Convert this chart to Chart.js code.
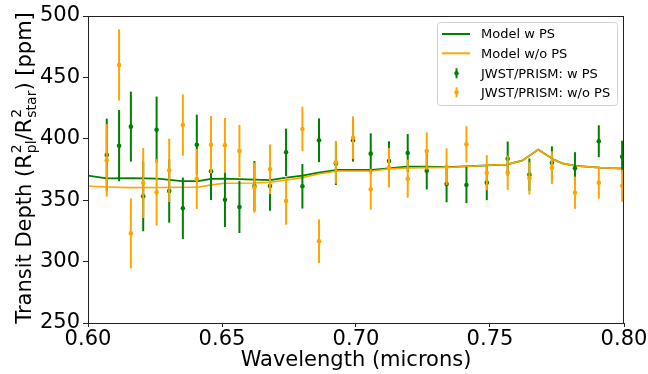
<!DOCTYPE html>
<html>
<head>
<meta charset="utf-8">
<script src="https://cdn.jsdelivr.net/npm/chart.js@4/dist/chart.umd.min.js"></script>
<style>
  html, body { margin: 0; padding: 0; background: #fff; }
  #TransitChart { display: block; }
</style>
</head>
<body>
<canvas id="TransitChart" width="648" height="374"></canvas>
<script>
// binned JWST/PRISM points (microns / ppm)
const wavelength = [0.6070, 0.6116, 0.6160, 0.6206, 0.6256, 0.6303, 0.6354, 0.6406, 0.6459, 0.6511,
                    0.6565, 0.6621, 0.6679, 0.6739, 0.6800, 0.6862, 0.6925, 0.6989, 0.7055, 0.7123,
                    0.7193, 0.7264, 0.7338, 0.7412, 0.7488, 0.7566, 0.7647, 0.7731, 0.7817, 0.7906, 0.7993];
const depth_ps = [386.8, 394.4, 409.9, 353.2, 407.4, 357.5, 343.4, 395.2, 373.5, 350.4,
                  344.5, 361.6, 361.6, 389.0, 361.3, 398.8, 379.8, 398.8, 387.9, 381.9,
                  388.4, 374.0, 363.2, 362.4, 364.3, 383.8, 370.8, 380.5, 376.0, 398.0, 385.4];
const depth_no_ps = [382.5, 460.1, 323.0, 364.0, 356.4, 374.3, 411.2, 367.3, 395.2, 394.7,
                     390.1, 360.2, 375.2, 349.3, 408.0, 316.5, 380.9, 400.9, 358.9, 376.5,
                     367.5, 390.1, 377.3, 395.5, 372.4, 372.4, 367.8, 376.5, 356.1, 364.3, 361.8];
const depth_err = [29.6, 29.0, 28.5, 28.5, 27.0, 25.8, 25.0, 24.4, 23.3, 22.3,
                   21.2, 20.4, 20.2, 19.3, 18.1, 17.8, 17.4, 17.4, 16.6, 16.1,
                   15.5, 15.2, 14.9, 14.8, 14.3, 14.0, 13.2, 13.3, 13.1, 13.0, 13.1];

// model spectra
const model_wave = [0.600, 0.607, 0.616, 0.626, 0.635, 0.641, 0.646, 0.651, 0.662, 0.668,
                    0.674, 0.680, 0.686, 0.693, 0.699, 0.706, 0.712, 0.719, 0.726, 0.734,
                    0.749, 0.756, 0.762, 0.768, 0.774, 0.777, 0.782, 0.791, 0.800];
const model_ps = [370.0, 367.8, 368.0, 367.5, 365.6, 365.6, 367.3, 367.6, 366.8, 366.4,
                  368.4, 370.0, 372.4, 374.6, 374.6, 374.6, 376.0, 377.3, 377.3, 377.0,
                  378.4, 379.0, 382.2, 391.2, 382.8, 380.0, 377.9, 376.5, 375.7];
const model_no_ps = [361.6, 360.8, 360.2, 360.3, 360.5, 360.5, 362.5, 363.8, 364.0, 364.6,
                     366.4, 368.4, 371.4, 373.8, 373.8, 373.8, 375.4, 376.2, 376.5, 376.6,
                     378.4, 379.0, 382.2, 391.2, 382.8, 380.0, 377.9, 376.5, 375.7];

const x_ticks = [0.60, 0.65, 0.70, 0.75, 0.80];
const y_ticks = [250, 300, 350, 400, 450, 500];

const GREEN = '#008000';
const ORANGE = '#ffa500';
const FONT = 'DejaVu Sans';

function to_points(xs, ys){
    return xs.map((x, i) => ({x: x, y: ys[i]}));
}

// draw vertical error bars under each data set's markers
const errorbar_plugin = {
    id: 'errorbars',
    beforeDatasetDraw(chart, args){
        const ds = chart.data.datasets[args.index];
        if (!ds.errors) return;
        const ctx = chart.ctx;
        const xs = chart.scales.x, ys = chart.scales.y;
        ctx.save();
        ctx.strokeStyle = ds.backgroundColor;
        ctx.lineWidth = 2;
        ds.data.forEach((p, i) => {
            const px = xs.getPixelForValue(p.x);
            ctx.beginPath();
            ctx.moveTo(px, ys.getPixelForValue(p.y - ds.errors[i]));
            ctx.lineTo(px, ys.getPixelForValue(p.y + ds.errors[i]));
            ctx.stroke();
        });
        ctx.restore();
    }
};

// frame, y title with sub/superscripts, legend
const decor_plugin = {
    id: 'decor',
    afterDraw(chart){
        const ctx = chart.ctx;
        const a = chart.chartArea;
        ctx.save();
        ctx.strokeStyle = '#222';
        ctx.lineWidth = 1;
        ctx.strokeRect(a.left + 0.5, a.top + 0.5, a.right - a.left - 1, a.bottom - a.top);

        // y axis title
        const big = '21px ' + FONT, small = '14px ' + FONT;
        const parts = [
            {t: 'Transit Depth (R'},
            {sub: 'pl', sup: '2'},
            {t: '/R'},
            {sub: 'star', sup: '2'},
            {t: ') [ppm]'}
        ];
        let total = 0;
        parts.forEach(p => {
            if (p.t) { ctx.font = big; p.w = ctx.measureText(p.t).width; }
            else { ctx.font = small; p.w = Math.max(ctx.measureText(p.sub).width, ctx.measureText(p.sup).width) + 1; }
            total += p.w;
        });
        ctx.translate(31, 168);
        ctx.rotate(-Math.PI / 2);
        ctx.fillStyle = '#000';
        ctx.textBaseline = 'alphabetic';
        ctx.textAlign = 'left';
        let cx = -total / 2;
        parts.forEach(p => {
            if (p.t) { ctx.font = big; ctx.fillText(p.t, cx, 0); }
            else {
                ctx.font = small;
                ctx.fillText(p.sup, cx + 1, -10);
                ctx.fillText(p.sub, cx + 1, 5);
            }
            cx += p.w;
        });
        ctx.restore();

        // legend
        ctx.save();
        const lx = 437, ly = 22, lw = 180, lh = 83;
        ctx.fillStyle = 'rgba(255,255,255,0.8)';
        ctx.strokeStyle = '#d0d0d0';
        ctx.lineWidth = 1;
        ctx.beginPath();
        ctx.roundRect(lx + 0.5, ly + 0.5, lw, lh, 3);
        ctx.fill();
        ctx.stroke();
        const rows = [34, 53.3, 73.3, 92.3];
        ctx.font = '13px ' + FONT;
        ctx.textBaseline = 'middle';
        ctx.fillStyle = '#000';
        chart.data.datasets.forEach(ds => {
            const ry = rows[ds.legend_row];
            ctx.strokeStyle = ds.borderColor;
            ctx.lineWidth = 2;
            ctx.beginPath();
            if (ds.errors) {
                ctx.moveTo(456.5, ry - 5);
                ctx.lineTo(456.5, ry + 5);
                ctx.stroke();
                ctx.fillStyle = ds.backgroundColor;
                ctx.beginPath();
                ctx.arc(456.5, ry, 2.2, 0, Math.PI * 2);
                ctx.fill();
            } else {
                ctx.moveTo(442, ry);
                ctx.lineTo(470, ry);
                ctx.stroke();
            }
            ctx.fillStyle = '#000';
            ctx.fillText(ds.label, 481, ry + 1);
        });
        ctx.restore();
    }
};

const ctx = document.getElementById('TransitChart').getContext('2d');
const chart = new Chart(ctx, {
    type: 'scatter',
    data: {
        datasets: [
            {
                label: 'JWST/PRISM: w/o PS',
                data: to_points(wavelength, depth_no_ps),
                errors: depth_err,
                backgroundColor: ORANGE,
                borderColor: ORANGE,
                pointRadius: 2.3,
                pointBorderWidth: 0,
                order: 0,
                legend_row: 3
            },
            {
                label: 'JWST/PRISM: w PS',
                data: to_points(wavelength, depth_ps),
                errors: depth_err,
                backgroundColor: GREEN,
                borderColor: GREEN,
                pointRadius: 2.3,
                pointBorderWidth: 0,
                order: 1,
                legend_row: 2
            },
            {
                label: 'Model w/o PS',
                data: to_points(model_wave, model_no_ps),
                showLine: true,
                borderColor: ORANGE,
                backgroundColor: ORANGE,
                borderWidth: 1.6,
                pointRadius: 0,
                tension: 0,
                order: 2,
                legend_row: 1
            },
            {
                label: 'Model w PS',
                data: to_points(model_wave, model_ps),
                showLine: true,
                borderColor: GREEN,
                backgroundColor: GREEN,
                borderWidth: 1.8,
                pointRadius: 0,
                tension: 0,
                order: 3,
                legend_row: 0
            }
        ]
    },
    options: {
        responsive: false,
        animation: false,
        layout: { padding: { top: 16, right: 24, left: 0, bottom: 0 } },
        plugins: {
            legend: { display: false },
            tooltip: { enabled: false }
        },
        scales: {
            x: {
                type: 'linear',
                min: 0.6,
                max: 0.8,
                afterBuildTicks: scale => { scale.ticks = x_ticks.map(v => ({value: v})); },
                afterFit: scale => { scale.height = 51; },
                ticks: {
                    callback: v => v.toFixed(2),
                    color: '#000',
                    font: { family: FONT, size: 21 },
                    padding: 0,
                    maxRotation: 0
                },
                grid: { drawOnChartArea: false, color: '#222', tickLength: 4 },
                border: { color: '#222' },
                title: {
                    display: true,
                    text: 'Wavelength (microns)',
                    color: '#000',
                    font: { family: FONT, size: 21 },
                    padding: { top: 0, bottom: 1 }
                }
            },
            y: {
                min: 250,
                max: 500,
                afterBuildTicks: scale => { scale.ticks = y_ticks.map(v => ({value: v})); },
                afterFit: scale => { scale.width = 88; },
                ticks: {
                    color: '#000',
                    font: { family: FONT, size: 21 },
                    padding: 3
                },
                grid: { drawOnChartArea: false, color: '#222', tickLength: 5 },
                border: { color: '#222' }
            }
        }
    },
    plugins: [errorbar_plugin, decor_plugin]
});
</script>
</body>
</html>
